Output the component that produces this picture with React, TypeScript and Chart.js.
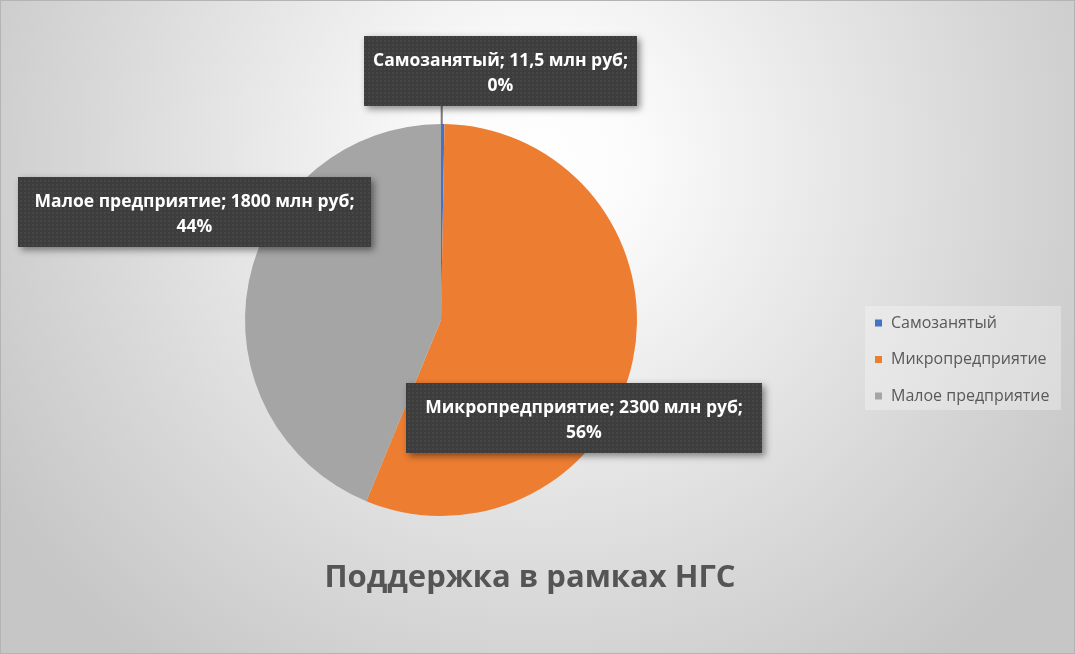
import React, { useEffect, useRef } from "react";
import { Chart, registerables } from "chart.js";

Chart.register(...registerables);

const categories = ["Самозанятый", "Микропредприятие", "Малое предприятие"];
const values = [11.5, 2300, 1800];
const colors = ["#4472C4", "#ED7D31", "#A5A5A5"];
const unitText = "млн руб";
const chartTitle = "Поддержка в рамках НГС";

const W = 1075;
const H = 654;
const FONT = "'Open Sans', 'Noto Sans', sans-serif";

// layout of the (manually placed) data label boxes: centre x, centre y, width
const labelBoxes = [
  { cx: 500.5, cy: 71, w: 273 },
  { cx: 584, cy: 418, w: 356 },
  { cx: 194.5, cy: 212, w: 353 },
];

function fmt(v: number): string {
  return String(v).replace(".", ",");
}

function makePattern(ctx: CanvasRenderingContext2D): CanvasPattern | string {
  const c = document.createElement("canvas");
  c.width = 4;
  c.height = 4;
  const p = c.getContext("2d");
  if (!p) return "#3f3f3f";
  p.fillStyle = "#3d3d3d";
  p.fillRect(0, 0, 4, 4);
  p.fillStyle = "#464646";
  p.fillRect(0, 0, 2, 2);
  return ctx.createPattern(c, "repeat") || "#3f3f3f";
}

const decorPlugin = {
  id: "decor",
  beforeDraw(chart: any) {
    const ctx: CanvasRenderingContext2D = chart.ctx;
    ctx.save();
    const g = ctx.createRadialGradient(540, 160, 0, 540, 160, 640);
    g.addColorStop(0, "#ffffff");
    g.addColorStop(0.15, "#fbfbfb");
    g.addColorStop(0.7, "#d8d8d8");
    g.addColorStop(1, "#c6c6c6");
    ctx.fillStyle = g;
    ctx.fillRect(0, 0, W, H);
    ctx.strokeStyle = "#b4b4b4";
    ctx.lineWidth = 1;
    ctx.strokeRect(0.5, 0.5, W - 1, H - 1);
    ctx.restore();
  },
  afterDraw(chart: any) {
    const ctx: CanvasRenderingContext2D = chart.ctx;
    const meta = chart.getDatasetMeta(0);
    const data: number[] = chart.data.datasets[0].data;
    const total = data.reduce((a, b) => a + b, 0);
    const labels: string[] = chart.data.labels;
    const pattern = makePattern(ctx);

    ctx.save();
    // data label boxes
    data.forEach((v, i) => {
      const line1 = `${labels[i]}; ${fmt(v)} ${unitText};`;
      const line2 = `${Math.round((v / total) * 100)}%`;
      ctx.font = `bold 17.5px ${FONT}`;
      const { cx, cy, w } = labelBoxes[i];
      const bw = Math.max(w, ctx.measureText(line1).width + 12);
      const bh = 70;
      const x = cx - bw / 2;
      const y = cy - bh / 2;

      // leader line for small slice
      if (i === 0) {
        const arc = meta.data[i];
        const mid = (arc.startAngle + arc.endAngle) / 2;
        const px = arc.x + Math.cos(mid) * arc.outerRadius;
        const py = arc.y + Math.sin(mid) * arc.outerRadius;
        ctx.strokeStyle = "#7a7a7a";
        ctx.lineWidth = 2;
        ctx.beginPath();
        ctx.moveTo(px - 1, y + bh);
        ctx.lineTo(px - 1, py);
        ctx.stroke();
      }

      ctx.save();
      ctx.shadowColor = "rgba(0,0,0,0.45)";
      ctx.shadowBlur = 7;
      ctx.shadowOffsetX = 3;
      ctx.shadowOffsetY = 3;
      ctx.fillStyle = "#3f3f3f";
      ctx.fillRect(x, y, bw, bh);
      ctx.restore();
      ctx.fillStyle = pattern;
      ctx.fillRect(x, y, bw, bh);

      ctx.fillStyle = "#ffffff";
      ctx.textAlign = "center";
      ctx.textBaseline = "alphabetic";
      ctx.fillText(line1, cx, y + 30);
      ctx.fillText(line2, cx, y + 55);
    });

    // legend
    ctx.fillStyle = "rgba(255,255,255,0.3)";
    ctx.fillRect(865, 306, 196, 104);
    ctx.font = `16px ${FONT}`;
    ctx.textAlign = "left";
    ctx.textBaseline = "middle";
    labels.forEach((lab, i) => {
      const cy = 323 + i * 36.5;
      ctx.fillStyle = colors[i];
      ctx.fillRect(875, cy - 3.5, 7, 7);
      ctx.fillStyle = "#595959";
      ctx.fillText(lab, 891, cy);
    });

    // title
    ctx.font = `bold 31px ${FONT}`;
    ctx.textAlign = "center";
    ctx.textBaseline = "alphabetic";
    ctx.fillStyle = "#555555";
    ctx.fillText(chartTitle, 530, 587);
    ctx.restore();
  },
};

export default function App() {
  const ref = useRef<HTMLCanvasElement | null>(null);

  useEffect(() => {
    document.body.style.margin = "0";
    if (!ref.current) return;
    const chart = new Chart(ref.current, {
      type: "pie",
      data: {
        labels: categories,
        datasets: [
          {
            data: values,
            backgroundColor: colors,
            borderWidth: 0,
            hoverOffset: 0,
            offset: 0,
          },
        ],
      },
      options: {
        animation: false,
        responsive: false,
        devicePixelRatio: 1,
        events: [],
        layout: { padding: { left: 245, right: 438, top: 124, bottom: 138 } },
        plugins: {
          legend: { display: false },
          tooltip: { enabled: false },
          title: { display: false },
        },
      },
      plugins: [decorPlugin],
    });
    return () => chart.destroy();
  }, []);

  return (
    <div style={{ width: W, height: H }}>
      <canvas ref={ref} width={W} height={H} style={{ display: "block" }} />
    </div>
  );
}
